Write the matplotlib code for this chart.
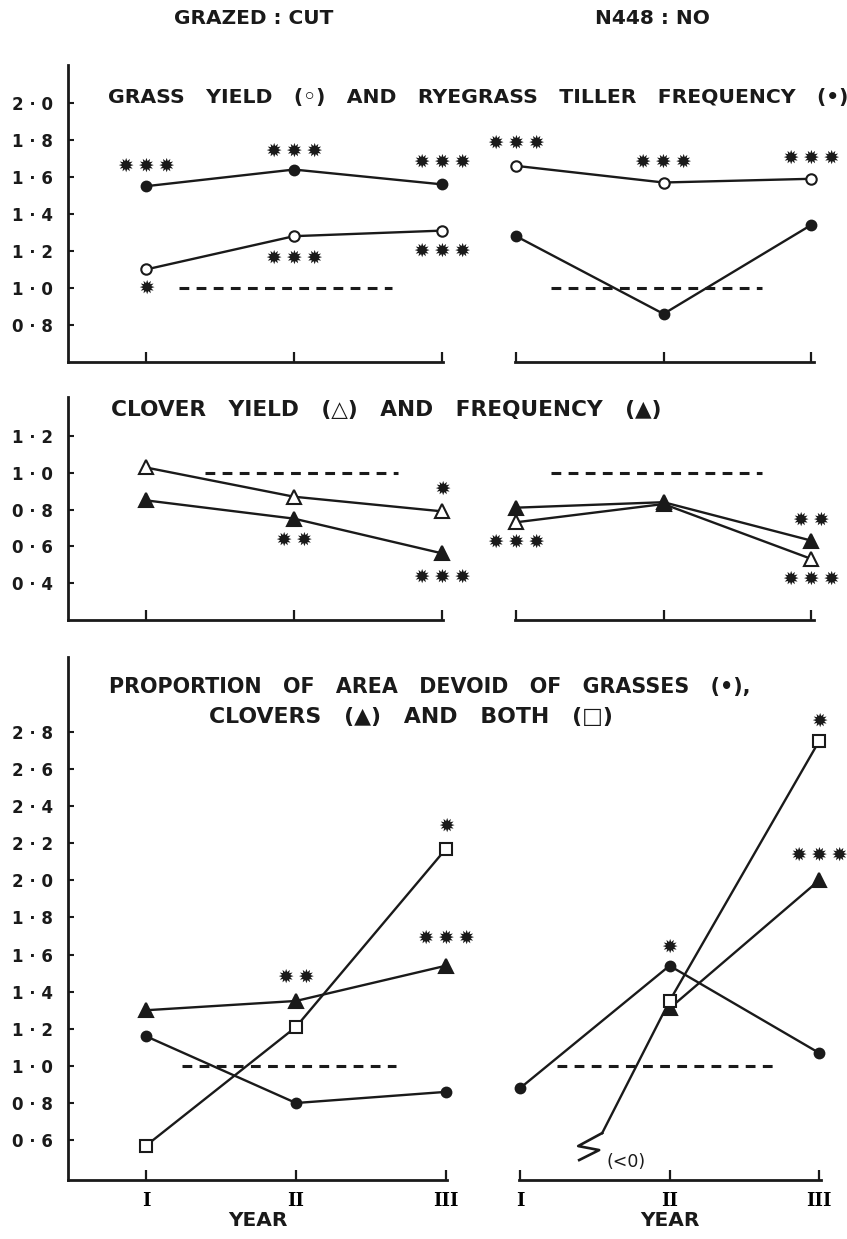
import numpy as np
import matplotlib
matplotlib.use('Agg')
import matplotlib.pyplot as plt

W, H = 847, 1239

# --- data --------------------------------------------------------------------
years = [1, 2, 3]
year_labels = ['I', 'II', 'III']

# grass yield (open circle) and ryegrass tiller frequency (filled circle)
grass_yield_grazed = [1.10, 1.28, 1.31]
tiller_freq_grazed = [1.55, 1.64, 1.56]
grass_yield_n448 = [1.66, 1.57, 1.59]
tiller_freq_n448 = [1.28, 0.86, 1.34]

# clover yield (open triangle) and frequency (filled triangle)
clover_yield_grazed = [1.03, 0.87, 0.79]
clover_freq_grazed = [0.85, 0.75, 0.56]
clover_yield_n448 = [0.73, 0.83, 0.53]
clover_freq_n448 = [0.81, 0.84, 0.63]

# area devoid of grasses (circle), clovers (triangle), both (square)
devoid_grass_grazed = [1.16, 0.80, 0.86]
devoid_clover_grazed = [1.30, 1.35, 1.54]
devoid_both_grazed = [0.57, 1.21, 2.17]
devoid_grass_n448 = [0.88, 1.54, 1.07]
devoid_clover_n448 = [np.nan, 1.31, 2.00]
devoid_both_n448 = [-0.23, 1.35, 2.75]   # year I below zero (off scale)

# significance marks: (year, level, number of stars)
stars_p1_left = [(1, 1.66, 3), (2, 1.74, 3), (3, 1.68, 3), (2, 1.16, 3), (3, 1.20, 3), (1, 1.00, 1)]
stars_p1_right = [(1, 1.78, 3), (2, 1.68, 3), (3, 1.70, 3)]
stars_p2_left = [(3, 0.91, 1), (2, 0.63, 2), (3, 0.43, 3)]
stars_p2_right = [(1, 0.62, 3), (3, 0.74, 2), (3, 0.42, 3)]
stars_p3_left = [(3, 2.29, 1), (3, 1.69, 3), (2, 1.48, 2)]
stars_p3_right = [(2, 1.64, 1), (3, 2.86, 1), (3, 2.135, 3)]

INK = '#1a1a1a'
BOLD = dict(family=['DejaVu Sans'], weight='bold', color=INK)

fig = plt.figure(figsize=(W / 100, H / 100), dpi=100)


def axes_px(x0, x1, ytop, ybot):
    return fig.add_axes([x0 / W, 1 - ybot / H, (x1 - x0) / W, (ybot - ytop) / H])


def setup(ax, xlim, ylim, yticks=None, xlabels=False):
    ax.set_xlim(xlim)
    ax.set_ylim(ylim)
    ax.patch.set_visible(False)
    for s in ['top', 'right']:
        ax.spines[s].set_visible(False)
    for s in ['bottom', 'left']:
        ax.spines[s].set_linewidth(2.0)
        ax.spines[s].set_color(INK)
    ax.set_xticks(years)
    ax.tick_params(axis='x', direction='in', length=7, width=1.6, color=INK, pad=9)
    if xlabels:
        ax.set_xticklabels(year_labels, family='DejaVu Serif', weight='bold', fontsize=13)
    else:
        ax.set_xticklabels([])
    if yticks is None:
        ax.spines['left'].set_visible(False)
        ax.set_yticks([])
    else:
        ax.set_yticks(yticks)
        ax.set_yticklabels([f'{v:.1f}'.replace('.', ' · ') for v in yticks], **BOLD, fontsize=12)
        ax.tick_params(axis='y', direction='in', length=4, width=1.5, color=INK, pad=11)


def series(ax, y, marker, filled, ms):
    ax.plot(years, y, '-', color=INK, lw=1.7, marker=marker, ms=ms,
            mfc=INK if filled else 'white', mec=INK, mew=1.5,
            clip_on=False, zorder=3)


def ref_line(ax, x0, x1):
    ax.plot([x0, x1], [1.0, 1.0], color=INK, lw=2.2, dashes=(3.2, 2.4), zorder=2)


def stars(ax, marks):
    for x, y, n in marks:
        ax.text(x, y, '\u2009'.join(['\u2739'] * n), ha='center', va='center',
                fontsize=14, family=['DejaVu Sans'], color=INK)


# --- panel 1 ----------------------------------------------------------------
a1 = axes_px(68, 443, 65, 362)
setup(a1, (0.473, 3.007), (0.6, 2.205), yticks=np.arange(0.8, 2.01, 0.2))
series(a1, tiller_freq_grazed, 'o', True, 7)
series(a1, grass_yield_grazed, 'o', False, 7.5)
ref_line(a1, 1.22, 2.66)
stars(a1, stars_p1_left)

b1 = axes_px(515, 814, 65, 362)
setup(b1, (0.993, 3.02), (0.6, 2.205))
series(b1, grass_yield_n448, 'o', False, 7.5)
series(b1, tiller_freq_n448, 'o', True, 7)
ref_line(b1, 1.24, 2.67)
stars(b1, stars_p1_right)

# --- panel 2 ----------------------------------------------------------------
a2 = axes_px(68, 443, 397, 620)
setup(a2, (0.473, 3.007), (0.195, 1.416), yticks=np.arange(0.4, 1.21, 0.2))
series(a2, clover_yield_grazed, '^', False, 10.5)
series(a2, clover_freq_grazed, '^', True, 10.5)
ref_line(a2, 1.40, 2.70)
stars(a2, stars_p2_left)

b2 = axes_px(515, 814, 397, 620)
setup(b2, (0.993, 3.02), (0.195, 1.416))
series(b2, clover_yield_n448, '^', False, 10.5)
series(b2, clover_freq_n448, '^', True, 10.5)
ref_line(b2, 1.24, 2.67)
stars(b2, stars_p2_right)

# --- panel 3 ----------------------------------------------------------------
a3 = axes_px(68, 447, 657, 1180)
setup(a3, (0.48, 3.007), (0.385, 3.204), yticks=np.arange(0.6, 2.81, 0.2), xlabels=True)
series(a3, devoid_grass_grazed, 'o', True, 7)
series(a3, devoid_clover_grazed, '^', True, 10.5)
series(a3, devoid_both_grazed, 's', False, 8)
ref_line(a3, 1.24, 2.67)
stars(a3, stars_p3_left)
a3.set_xlabel('YEAR', **BOLD, fontsize=14.5, labelpad=0)

b3 = axes_px(519, 821, 657, 1180)
setup(b3, (0.993, 3.013), (0.385, 3.204), xlabels=True)
series(b3, devoid_grass_n448, 'o', True, 7)
series(b3, devoid_clover_n448, '^', True, 10.5)
# "both" at year I is below zero: draw its line only down to a break mark
y_break = 0.638
v0, v1 = devoid_both_n448[0], devoid_both_n448[1]
x_break = years[0] + (y_break - v0) / (v1 - v0) * (years[1] - years[0])
b3.plot([x_break] + years[1:], [y_break] + devoid_both_n448[1:], '-', color=INK, lw=1.7, zorder=3)
b3.plot(years[1:], devoid_both_n448[1:], 's', ms=8, mfc='white', mec=INK, mew=1.5,
        clip_on=False, zorder=4)
fig.canvas.draw()
bx, by = b3.transData.transform((x_break, y_break))
zig = np.array([[0, 0], [-24, -13], [-3, -17], [-23, -27]]) + [bx, by]
zx, zy = b3.transData.inverted().transform(zig).T
b3.plot(zx, zy, '-', color=INK, lw=1.9, zorder=3)
b3.annotate('(<0)', (x_break, y_break), xytext=(24, -29), textcoords='offset pixels',
            ha='center', va='center', fontsize=12.5, family='DejaVu Sans', color=INK)
ref_line(b3, 1.25, 2.69)
stars(b3, stars_p3_right)
b3.set_xlabel('YEAR', **BOLD, fontsize=14.5, labelpad=0)


# --- headings (font size fitted to the width they take in the original) ---------
def ftext(x0, x1, y, s):
    t = fig.text(x0 / W, 1 - y / H, s, ha='left', va='center', fontsize=13, **BOLD)
    w = t.get_window_extent(fig.canvas.get_renderer()).width
    t.set_fontsize(13 * (x1 - x0) / w)


fig.text(254 / W, 1 - 18 / H, 'GRAZED : CUT', ha='center', va='center', fontsize=14.5, **BOLD)
fig.text(652 / W, 1 - 18 / H, 'N448 : NO', ha='center', va='center', fontsize=14.5, **BOLD)
ftext(108, 843, 97, 'GRASS   YIELD   (\u25e6)   AND   RYEGRASS   TILLER   FREQUENCY   (\u2022)')
ftext(111, 657, 410, 'CLOVER   YIELD   (\u25b3)   AND   FREQUENCY   (\u25b2)')
ftext(109, 750, 687, 'PROPORTION   OF   AREA   DEVOID   OF   GRASSES   (\u2022),')
ftext(209, 611, 717, 'CLOVERS   (\u25b2)   AND   BOTH   (\u25a1)')

fig.savefig('out.png', dpi=100)
